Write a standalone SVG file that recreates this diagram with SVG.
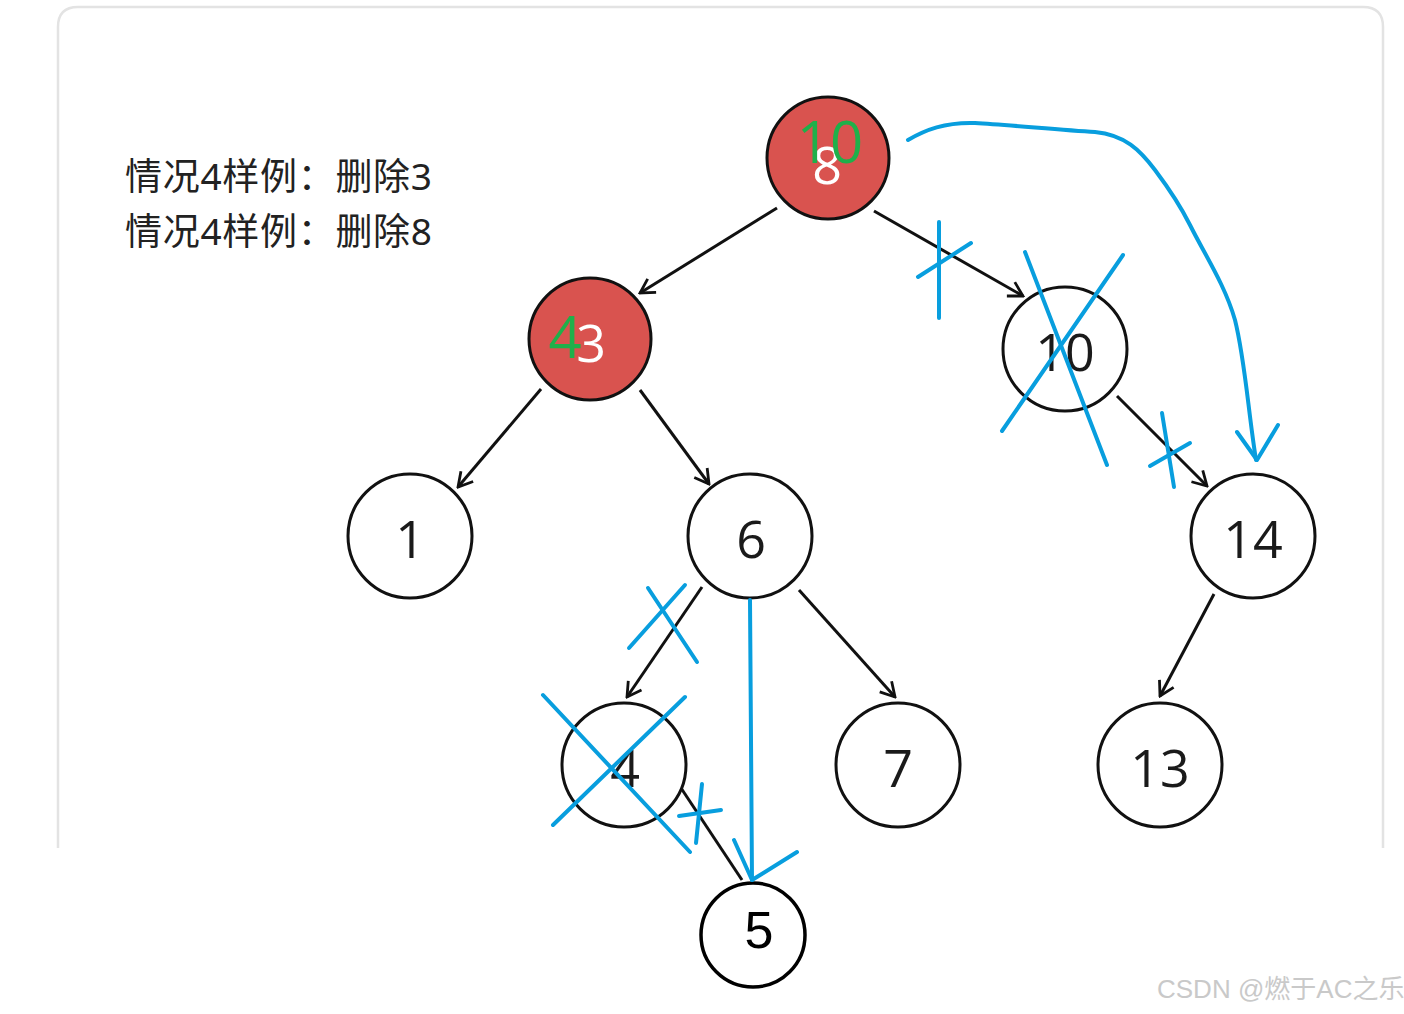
<svg xmlns="http://www.w3.org/2000/svg" width="1404" height="1014" viewBox="0 0 1404 1014">
<style>
.node circle{fill:#fff;stroke:#111;stroke-width:3}
.red circle{fill:#d9534f;stroke:#111;stroke-width:3}
.num{font-family:"Open Sans","Noto Sans","DejaVu Sans",sans-serif;font-size:52px;fill:#1a1a1a;text-anchor:middle}
.wnum{fill:#fff}
.gnum{font-family:"Open Sans","Noto Sans",sans-serif;font-size:58px;fill:#1fb04a;text-anchor:middle}
.edge{stroke:#111;stroke-width:3;fill:none;marker-end:url(#ah)}
.blue{stroke:#089ede;stroke-width:4;fill:none;stroke-linecap:round;stroke-linejoin:round}
.lbl{font-family:"Noto Sans","Noto Sans CJK SC",sans-serif;font-size:37px;fill:#222}
</style>
<defs>
<marker id="ah" viewBox="0 0 20 20" refX="18" refY="10" markerWidth="20" markerHeight="20" markerUnits="userSpaceOnUse" orient="auto">
<path d="M4,2 L18,10 L4,18" fill="none" stroke="#111" stroke-width="2.8"/>
</marker>
</defs>
<rect width="1404" height="1014" fill="#fff"/>
<path d="M58,848 V27 Q58,7 78,7 H1363 Q1383,7 1383,27 V848" fill="none" stroke="#e3e3e3" stroke-width="2.5"/>
<g id="labels">
<text class="lbl" x="125" y="190" textLength="307" lengthAdjust="spacing">情况4样例：删除3</text>
<text class="lbl" x="125" y="245" textLength="307" lengthAdjust="spacing">情况4样例：删除8</text>
</g>
<g id="connectors">
<line class="edge" x1="777" y1="208" x2="640" y2="293"/>
<line class="edge" x1="874" y1="211" x2="1023" y2="296"/>
<line class="edge" x1="541" y1="389" x2="458" y2="487"/>
<line class="edge" x1="640" y1="390" x2="709" y2="484"/>
<line class="edge" x1="1117" y1="396" x2="1207" y2="486"/>
<line class="edge" x1="702" y1="587" x2="627" y2="697"/>
<line class="edge" x1="799" y1="590" x2="895" y2="697"/>
<line class="edge" x1="1214" y1="594" x2="1160" y2="696"/>
<line x1="681" y1="788" x2="742" y2="880" stroke="#111" stroke-width="3"/>
</g>
<g id="n8" class="red"><circle cx="828" cy="158" r="61"/><text class="num wnum" x="827" y="184">8</text><text class="gnum" x="830" y="163">10</text></g>
<g id="n3" class="red"><circle cx="590" cy="339" r="61"/><text class="num wnum" x="591" y="362">3</text><text class="gnum" x="565" y="358">4</text></g>
<g id="n10" class="node"><circle cx="1065" cy="349" r="62"/><text class="num" x="1065" y="371">10</text></g>
<g id="n1" class="node"><circle cx="410" cy="536" r="62"/><text class="num" x="410" y="558">1</text></g>
<g id="n6" class="node"><circle cx="750" cy="536" r="62"/><text class="num" x="751" y="558">6</text></g>
<g id="n14" class="node"><circle cx="1253" cy="536" r="62"/><text class="num" x="1253" y="558">14</text></g>
<g id="n4" class="node"><circle cx="624" cy="765" r="62"/><text class="num" x="625" y="787">4</text></g>
<g id="n7" class="node"><circle cx="898" cy="765" r="62"/><text class="num" x="898" y="787">7</text></g>
<g id="n13" class="node"><circle cx="1160" cy="765" r="62"/><text class="num" x="1160" y="787">13</text></g>
<g id="n5"><circle cx="753" cy="935" r="52" fill="#fff" stroke="#000" stroke-width="3.5"/><text class="num" x="759" y="948" style="fill:#000;font-family:'Liberation Sans',Arial,sans-serif;font-size:52px">5</text></g>
<g id="annotations">
<path class="blue" d="M908,140 C925,130 945,122 975,123 C1010,125 1060,130 1095,132 C1125,135 1140,150 1155,170 C1170,190 1180,205 1190,225 C1205,255 1225,285 1235,320 C1245,360 1248,410 1256,460"/>
<path class="blue" d="M1237,432 L1257,460 L1278,425"/>
<line class="blue" x1="939" y1="222" x2="939" y2="318"/>
<line class="blue" x1="918" y1="277" x2="971" y2="243"/>
<line class="blue" x1="1025" y1="252" x2="1107" y2="465"/>
<line class="blue" x1="1123" y1="255" x2="1002" y2="431"/>
<line class="blue" x1="1162" y1="413" x2="1174" y2="487"/>
<line class="blue" x1="1150" y1="466" x2="1190" y2="443"/>
<line class="blue" x1="629" y1="648" x2="685" y2="585"/>
<line class="blue" x1="648" y1="588" x2="697" y2="662"/>
<line class="blue" x1="543" y1="695" x2="690" y2="852"/>
<line class="blue" x1="685" y1="697" x2="553" y2="825"/>
<line class="blue" x1="702" y1="784" x2="696" y2="843"/>
<line class="blue" x1="679" y1="816" x2="721" y2="810"/>
<line class="blue" x1="750" y1="600" x2="752" y2="880"/>
<path class="blue" d="M734,840 L752,880 L797,852"/>
</g>
<text x="1157" y="998" font-family="'Liberation Sans','Noto Sans CJK SC',sans-serif" font-size="26" fill="#c9c9c9">CSDN @燃于AC之乐</text>
</svg>
